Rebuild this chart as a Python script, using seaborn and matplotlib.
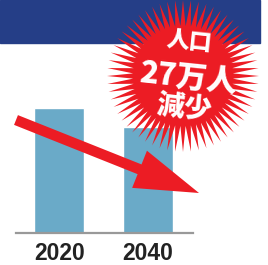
import numpy as np
import pandas as pd
import matplotlib
matplotlib.use("Agg")
import matplotlib.pyplot as plt
from matplotlib.patches import Polygon, Rectangle
import seaborn as sns

# data (population, 10k persons; estimated)
years = ["2020", "2040"]
population = [180, 153]
burst_lines = ["人口", "27万人", "減少"]

W, H = 268, 265
sns.set_theme(style="white")
plt.rcParams['font.family'] = ['Noto Sans CJK JP', 'DejaVu Sans']

fig = plt.figure(figsize=(W / 100, H / 100), dpi=100)
fig.patch.set_facecolor("white")

# bar axes
base_y = 233
top_y = 43
left_x, right_x = 16, 193
ax = fig.add_axes([left_x / W, (H - base_y) / H, (right_x - left_x) / W, (base_y - top_y) / H])
df = pd.DataFrame({"year": years, "pop": population})
sns.barplot(data=df, x="year", y="pop", ax=ax, color="#6aaac8", saturation=1, width=0.56)
ax.set_xlim(-0.485, 1.505)
ax.set_ylim(0, population[0] * (base_y - top_y) / (base_y - 108))
ax.set_facecolor("none")
for s in ["top", "right", "left"]:
    ax.spines[s].set_visible(False)
ax.spines["bottom"].set_color("#999999")
ax.spines["bottom"].set_linewidth(1.6)
ax.set_yticks([])
ax.set_xlabel("")
ax.set_ylabel("")
ax.tick_params(axis="x", length=0, pad=6.5)
for lab in ax.get_xticklabels():
    lab.set_fontfamily("Liberation Sans")
    lab.set_fontweight("bold")
    lab.set_fontsize(16.5)
    lab.set_color("#222222")

# overlay in pixel coordinates
ov = fig.add_axes([0, 0, 1, 1])
ov.set_xlim(0, W)
ov.set_ylim(H, 0)
ov.axis("off")
ov.patch.set_alpha(0)

ov.add_patch(Rectangle((0, 0), 260, 43, color="#253e87", zorder=1))

red = "#ec1c24"
# arrow
ov.arrow(16, 120, 183, 73, width=10.5, head_width=40, head_length=64,
         length_includes_head=True, color=red, lw=0, zorder=3)

# starburst
cx, cy = 183, 76
n = 60
ang = np.linspace(0, 2 * np.pi, 2 * n, endpoint=False) + np.pi / 2
rad = np.where(np.arange(2 * n) % 2 == 0, 76, 50)
pts = np.column_stack([cx + rad * np.cos(ang), cy - rad * np.sin(ang)])
ov.add_patch(Polygon(pts, closed=True, color=red, lw=0, zorder=4))

txt_kw = dict(color="white", fontweight="heavy", ha="center", va="center", zorder=5,
              rotation=-6, family=["Noto Sans CJK JP", "DejaVu Sans"])
ov.text(189, 42, burst_lines[0], fontsize=16.5, **txt_kw)
ov.text(188, 78, burst_lines[1], fontsize=22, **txt_kw)
ov.text(184, 108, burst_lines[2], fontsize=20, **txt_kw)

fig.savefig("out.png", dpi=100)
